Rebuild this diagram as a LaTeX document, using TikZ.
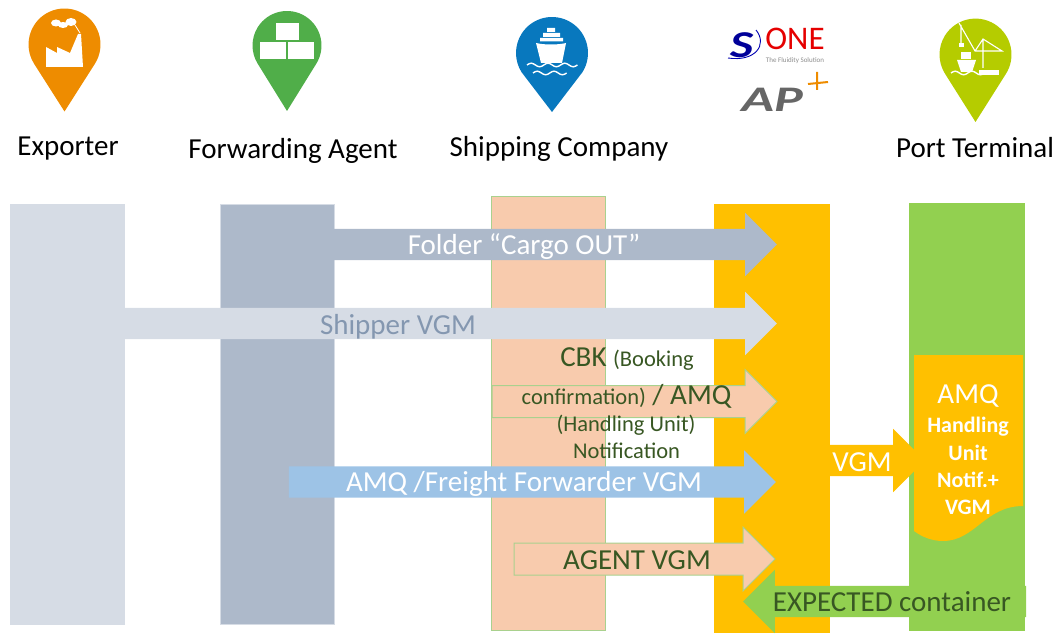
\documentclass[tikz,border=0pt]{standalone}
\usepackage{fontspec}
\setmainfont{Carlito}
\usetikzlibrary{shapes.arrows}
\definecolor{exportblue}{HTML}{D6DCE5}
\definecolor{agentblue}{HTML}{ADB9CA}
\definecolor{shippertext}{HTML}{8497B0}
\definecolor{salmon}{HTML}{F8CBAD}
\definecolor{leafline}{HTML}{A9D18E}
\definecolor{amber}{HTML}{FFC000}
\definecolor{portgreen}{HTML}{92D050}
\definecolor{skyblue}{HTML}{9DC3E6}
\definecolor{darkleaf}{HTML}{385723}
\definecolor{pinorange}{HTML}{EE8C00}
\definecolor{pingreen}{HTML}{50AE49}
\definecolor{pinblue}{HTML}{0878BE}
\definecolor{pinlime}{HTML}{B5CC00}
\newcommand{\mappin}[5]{\fill[#1] (#2,#3) ++(-32:#4) arc (-32:212:#4) -- (#2,#5) -- cycle;}
\newcommand{\wave}[3]{\draw[white,line width=1.4pt] (#1,#2) \foreach \k in {1,...,#3} {sin ++(4.2,1.8) cos ++(4.2,-1.8) sin ++(4.2,-1.8) cos ++(4.2,1.8)};}
\tikzset{
  lane/.style={inner sep=0pt,outer sep=0pt,minimum width=115pt},
  flow/.style={single arrow,inner xsep=0pt,inner ysep=15.5pt,outer sep=0pt,single arrow head extend=16pt,single arrow tip angle=90},
  actor/.style={font=\fontsize{29}{29}\selectfont,text=black,inner sep=0pt},
  flowtext/.style={font=\fontsize{29}{29}\selectfont,inner sep=0pt},
  smalltext/.style={font=\fontsize{22.5}{22.5}\selectfont,text=darkleaf,inner sep=0pt},
  boldnote/.style={font=\fontsize{22}{22}\selectfont\bfseries,text=white,inner sep=0pt}
}
\begin{document}
\begin{tikzpicture}[x=1pt,y=1pt]
\useasboundingbox (0,0) rectangle (1060,633);

\mappin{pinorange}{64.5}{588.5}{36}{521.5}
\mappin{pingreen}{287}{587.5}{34.5}{522}
\mappin{pinblue}{552}{580}{36}{521}
\mappin{pinlime}{975.5}{578.4}{36}{511}

\fill[white] (46,566) -- (46,586) -- (57,580) -- (57,586) -- (70,580) -- (78,599) -- (81,599) -- (83,566) -- cycle;
\fill[white] (56,610) ellipse (5 and 3.5) (63,608) ellipse (5 and 3) (71,611) ellipse (5.5 and 4);
\draw[white,line width=.8pt] (75,608) -- (80,600);

\fill[white] (275.5,593) rectangle (299,609.5);
\fill[white] (260,574) rectangle (286,591);
\fill[white] (288,574) rectangle (313.5,591);

\fill[white] (536,590) .. controls (544,588) and (558,588) .. (566,590) -- (562,570) -- (541,570) -- cycle;
\fill[white] (547,601) rectangle (555,605) (543,596) rectangle (560,600) (540,591.5) rectangle (563,595);
\wave{527}{568}{3}
\wave{533}{560}{2}

\draw[white,line width=1.1pt] (959,610) -- (975,582) -- (1002,582) -- (983,594) -- (975,582) (961,608) -- (961,590) (983,594) -- (983,565);
\fill[white] (959,586) rectangle (964,590);
\fill[white] (979,558) rectangle (999,563);
\fill[white] (957,573) -- (976,573) -- (972,561) -- (961,561) -- cycle;
\fill[white] (961,574) rectangle (971,581);
\wave{951}{560}{2}

\node[font=\fontsize{38}{38}\selectfont\bfseries\itshape,text=blue!60!black,inner sep=0pt,xscale=1.3] (sonemark) at (742,588) {S};
\draw[blue!70!black,line width=.9pt] (756,603) .. controls (768,588) and (755,571) .. (728,575);
\node[font=\fontsize{33}{20}\selectfont,text=red!90!black,inner sep=0pt] (sonename) at (795,594) {ONE};
\node[font=\fontsize{7}{7}\selectfont,text=black!45,inner sep=0pt] (sonetag) at (795,572.5) {The Fluidity Solution};
\node[font=\fontsize{36}{36}\selectfont\bfseries\itshape,text=black!60,inner sep=0pt,xscale=1.5] (apmark) at (772,533) {AP};
\draw[pinorange,line width=2pt] (808,549) -- (828,551) (817,543) -- (817,561);

\node[actor] (exporter) at (68,484) {Exporter};
\node[actor] (agent) at (293,482) {Forwarding Agent};
\node[actor] (shipping) at (559,484) {Shipping Company};
\node[actor] (terminal) at (975,485) {Port Terminal};

\node[lane,fill=exportblue,minimum height=421pt] (exportlane) at (67.5,218.5) {};
\node[lane,fill=agentblue,draw=exportblue,line width=.8pt,minimum height=420pt,minimum width=114pt] (agentlane) at (277,219) {};
\node[lane,fill=salmon,draw=leafline,line width=1pt,minimum height=433pt,minimum width=114pt] (shiplane) at (548,219.5) {};
\node[lane,fill=amber,minimum height=429pt,minimum width=116pt] (onelane) at (772,214.5) {};
\node[lane,fill=portgreen,minimum height=428pt,minimum width=116pt] (portlane) at (967,216) {};

\node[flow,fill=exportblue,minimum height=652pt] (vgmshipper) at (443,309.5) {};
\node[flow,fill=agentblue,minimum height=443pt] (cargoout) at (547.5,388.5) {};
\node[flow,fill=salmon,draw=leafline,line width=1pt,minimum height=285pt] (cbkamq) at (626.5,231.5) {};
\node[flow,fill=skyblue,minimum height=487pt] (amqforward) at (524.5,151) {};
\node[flow,fill=salmon,draw=leafline,line width=1pt,minimum height=261pt] (agentvgm) at (636.5,74) {};
\node[flow,fill=amber,minimum height=95pt] (vgmport) at (869.5,172.5) {};
\fill[amber] (914,278) -- (1023,278) -- (1023,127) .. controls (985,127) and (975,92) .. (943,92) .. controls (932,92) and (922,96) .. (914,102) -- cycle;
\node[flow,fill=portgreen,minimum height=283pt,shape border rotate=180] (expected) at (892.5,31.5) {};

\node[flowtext,text=white] (cargotext) at (524,386) {Folder “Cargo OUT”};
\node[flowtext,text=shippertext] (shippertext) at (398,306) {Shipper VGM};
\node[flowtext,text=white] (amqtext) at (524,149) {AMQ /Freight Forwarder VGM};
\node[flowtext,text=darkleaf] (agenttext) at (637,73) {AGENT VGM};
\node[flowtext,text=darkleaf] (expectedtext) at (892,31) {EXPECTED container};
\node[flowtext,text=white] (vgmtext) at (862,171) {VGM};

\node[flowtext,text=darkleaf] (cbktext) at (627,274) {CBK {\fontsize{22.5}{22.5}\selectfont (Booking}};
\node[flowtext,text=darkleaf] (confirmtext) at (626.5,237) {{\fontsize{22.5}{22.5}\selectfont confirmation)} / AMQ};
\node[smalltext] (handlingtext) at (626,208) {(Handling Unit)};
\node[smalltext] (notiftext) at (626.5,182) {Notification};

\node[flowtext,text=white] (docamq) at (968,237) {AMQ};
\node[boldnote] (dochandling) at (968,206) {Handling};
\node[boldnote] (docunit) at (968,180) {Unit};
\node[boldnote] (docnotif) at (968,153) {Notif.+};
\node[boldnote] (docvgm) at (968,126) {VGM};
\end{tikzpicture}
\end{document}
